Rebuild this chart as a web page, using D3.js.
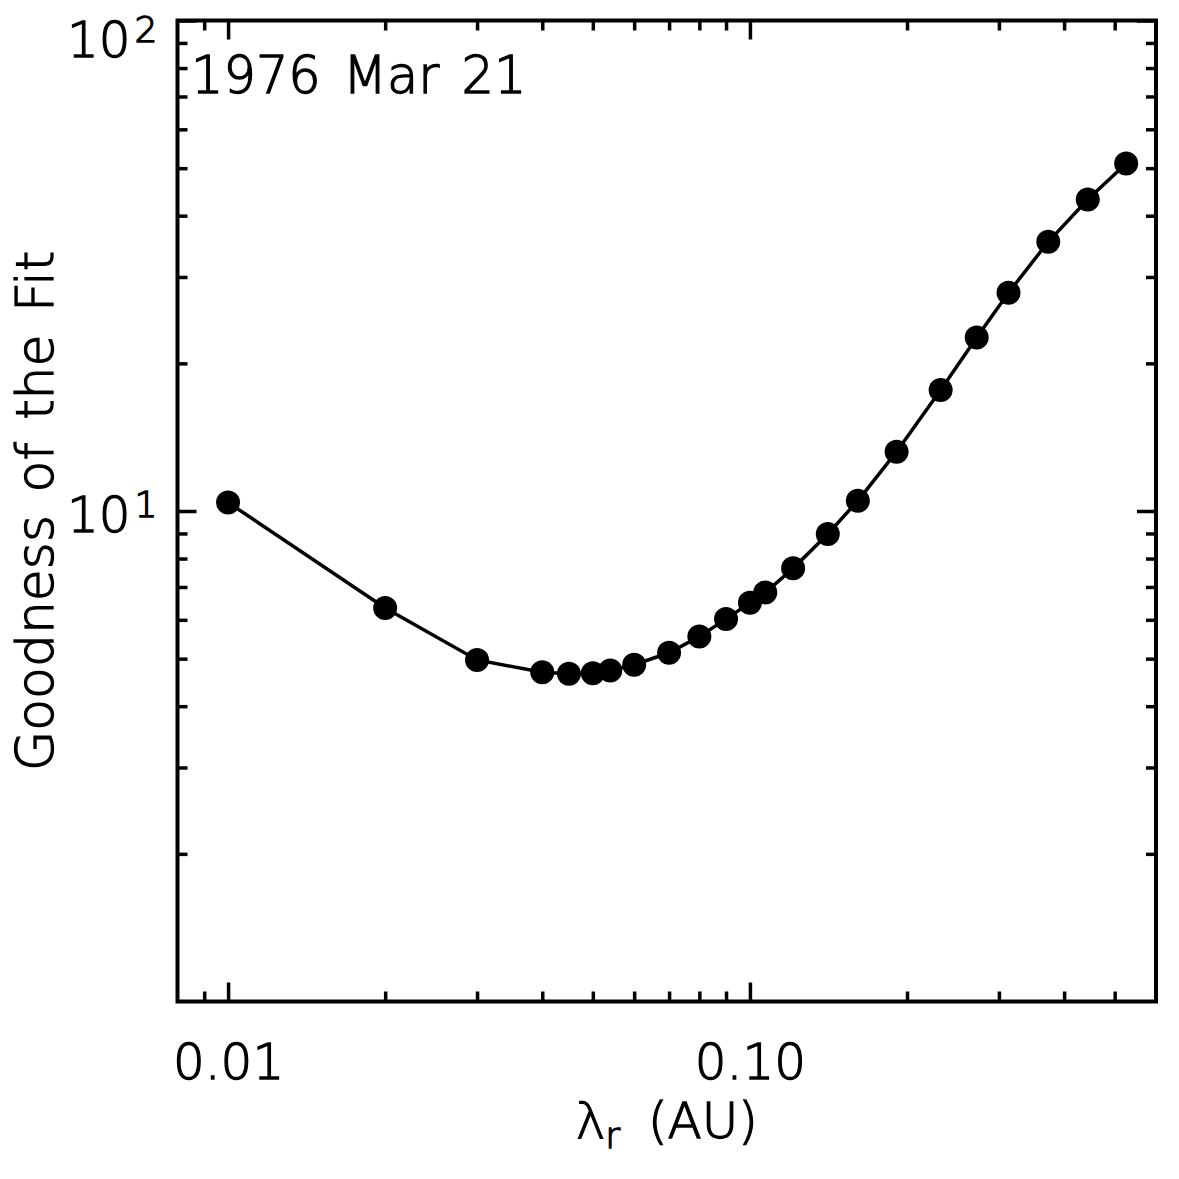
<!DOCTYPE html>
<html>
<head>
<meta charset="utf-8">
<script src="https://cdn.jsdelivr.net/npm/d3@7"></script>
<style>
  html, body { margin: 0; padding: 0; background: #fff; }
  svg { display: block; }
  text { font-family: "DejaVu Sans", sans-serif; fill: #000; font-weight: 200; stroke: #000; stroke-width: 1.3px; }
</style>
</head>
<body>
<svg id="chart" width="1179" height="1179"></svg>
<script>
// ---- data ----
const lambdaR = [0.010, 0.020, 0.030, 0.040, 0.045, 0.050, 0.054, 0.060, 0.070, 0.080, 0.090,
                 0.100, 0.107, 0.121, 0.141, 0.161, 0.191, 0.232, 0.272, 0.313, 0.373, 0.444, 0.526];
const goodness = [10.41, 6.34, 4.97, 4.69, 4.66, 4.67, 4.73, 4.86, 5.14, 5.55, 6.02,
                  6.50, 6.82, 7.64, 8.98, 10.49, 13.21, 17.64, 22.59, 27.86, 35.39, 43.17, 51.11];
const xDomain = [0.008, 0.6];
const yDomain = [1, 100];
const xMajorTicks = [0.01, 0.1];
const xTickLabels = ["0.01", "0.10"];
const xMinorTicks = [0.009, 0.02, 0.03, 0.04, 0.05, 0.06, 0.07, 0.08, 0.09, 0.2, 0.3, 0.4, 0.5];
const yMajorTicks = [10, 100];
const yTickExponents = ["1", "2"];
const yMinorTicks = [2, 3, 4, 5, 6, 7, 8, 9, 20, 30, 40, 50, 60, 70, 80, 90];
const annotation = "1976 Mar 21";
const yTitle = "Goodness of the Fit";

// ---- layout ----
const L = 177.5, R = 1156, T = 20.5, B = 1001.5;
const svg = d3.select("#chart");
const x = d3.scaleLog().domain(xDomain).range([L, R]);
const y = d3.scaleLog().domain(yDomain).range([B, T]);

const majorLen = 19, minorLen = 10;

function styleAxis(g) {
  g.select(".domain").remove();
  g.selectAll(".tick line").attr("stroke", "#000").attr("stroke-width", 3.5);
}

// bottom & top axes
const bottomMajor = svg.append("g").attr("transform", `translate(0,${B})`)
  .call(d3.axisBottom(x).tickValues(xMajorTicks).tickSize(-majorLen)
        .tickFormat((d, i) => xTickLabels[i]).tickPadding(0));
styleAxis(bottomMajor);
bottomMajor.selectAll(".tick text")
  .attr("y", 77).attr("dy", null).attr("fill", "#000")
  .style("font-size", "50px").style("font-family", "'DejaVu Sans', sans-serif")
  .style("font-weight", "200").style("stroke", "#000").style("stroke-width", "1.3px");

svg.append("g").attr("transform", `translate(0,${B})`)
  .call(d3.axisBottom(x).tickValues(xMinorTicks).tickSize(-minorLen).tickFormat(""))
  .call(styleAxis);
svg.append("g").attr("transform", `translate(0,${T})`)
  .call(d3.axisTop(x).tickValues(xMajorTicks).tickSize(-majorLen).tickFormat(""))
  .call(styleAxis);
svg.append("g").attr("transform", `translate(0,${T})`)
  .call(d3.axisTop(x).tickValues(xMinorTicks).tickSize(-minorLen).tickFormat(""))
  .call(styleAxis);

// left & right axes
svg.append("g").attr("transform", `translate(${L},0)`)
  .call(d3.axisLeft(y).tickValues(yMajorTicks).tickSize(-majorLen).tickFormat(""))
  .call(styleAxis);
svg.append("g").attr("transform", `translate(${L},0)`)
  .call(d3.axisLeft(y).tickValues(yMinorTicks).tickSize(-minorLen).tickFormat(""))
  .call(styleAxis);
svg.append("g").attr("transform", `translate(${R},0)`)
  .call(d3.axisRight(y).tickValues(yMajorTicks).tickSize(-majorLen).tickFormat(""))
  .call(styleAxis);
svg.append("g").attr("transform", `translate(${R},0)`)
  .call(d3.axisRight(y).tickValues(yMinorTicks).tickSize(-minorLen).tickFormat(""))
  .call(styleAxis);

// y tick labels 10^n
const yl = svg.append("g");
yMajorTicks.forEach((v, i) => {
  const t = yl.append("text")
    .attr("x", L - 20)
    .attr("y", Math.max(y(v) + 21, T + 36))
    .attr("text-anchor", "end")
    .style("font-size", "50px");
  t.append("tspan").text("10");
  t.append("tspan").attr("dx", 4).attr("dy", -15).style("font-size", "36px").text(yTickExponents[i]);
});

// frame
svg.append("rect")
  .attr("x", L).attr("y", T).attr("width", R - L).attr("height", B - T)
  .attr("fill", "none").attr("stroke", "#000").attr("stroke-width", 4);

// data line + markers
const line = d3.line().x((d, i) => x(lambdaR[i])).y(d => y(d));
svg.append("path").datum(goodness)
  .attr("d", line).attr("fill", "none").attr("stroke", "#000").attr("stroke-width", 3.5);
svg.append("g").selectAll("circle").data(goodness).join("circle")
  .attr("cx", (d, i) => x(lambdaR[i])).attr("cy", d => y(d))
  .attr("r", 12).attr("fill", "#000");

// annotation
svg.append("text").attr("x", 191).attr("y", 93)
  .style("font-size", "51px").style("word-spacing", "6px").text(annotation);

// x title
const xt = svg.append("text")
  .attr("x", (L + R) / 2).attr("y", 1138).attr("text-anchor", "middle")
  .style("font-size", "50px");
xt.append("tspan").text("λ");
xt.append("tspan").attr("dy", 10).style("font-size", "36px").text("r");
xt.append("tspan").attr("dy", -10).attr("dx", 12).text("\u00a0(AU)");

// y title
svg.append("text")
  .attr("transform", `translate(53,${(T + B) / 2}) rotate(-90)`)
  .attr("text-anchor", "middle")
  .style("font-size", "52px").style("word-spacing", "6px")
  .text(yTitle);
</script>
</body>
</html>
